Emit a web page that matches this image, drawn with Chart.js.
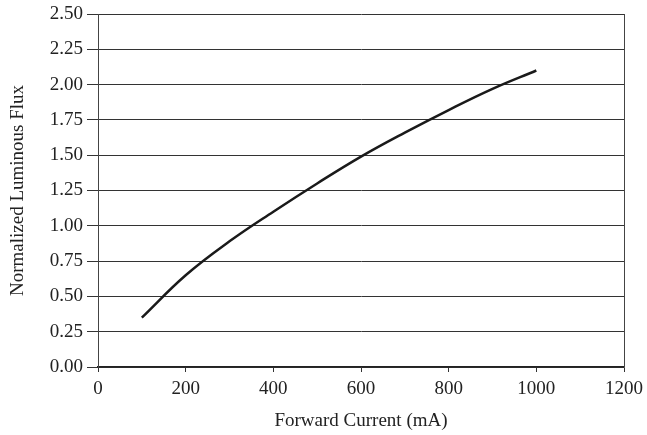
<!DOCTYPE html>
<html>
<head>
<meta charset="utf-8">
<script src="https://cdn.jsdelivr.net/npm/chart.js@4/dist/chart.umd.min.js"></script>
<style>
html,body{margin:0;padding:0;background:#fff;}
#wrap{width:647px;height:435px;}
</style>
</head>
<body>
<div id="wrap"><canvas id="c" width="647" height="435"></canvas></div>
<script>
const currentMA = [100, 200, 300, 400, 500, 600, 700, 800, 900, 1000];
const fluxValues = [0.35, 0.65, 0.89, 1.10, 1.30, 1.49, 1.66, 1.82, 1.97, 2.10];
const xTicks = [0, 200, 400, 600, 800, 1000, 1200];
const yTicks = [0, 0.25, 0.5, 0.75, 1.0, 1.25, 1.5, 1.75, 2.0, 2.25, 2.5];
const xTitle = 'Forward Current (mA)';
const yTitle = 'Normalized Luminous Flux';

const FONT = "'Liberation Serif', 'Times New Roman', serif";
const INK = '#222';

const frame = {
  id: 'frame',
  afterDraw(chart) {
    const a = chart.chartArea, ctx = chart.ctx;
    ctx.save();
    ctx.strokeStyle = '#444';
    ctx.lineWidth = 1;
    ctx.beginPath();
    ctx.moveTo(Math.round(a.right) + 0.5, a.top);
    ctx.lineTo(Math.round(a.right) + 0.5, a.bottom);
    ctx.stroke();
    ctx.restore();
  }
};

new Chart(document.getElementById('c'), {
  type: 'line',
  data: {
    datasets: [{
      data: currentMA.map((x, i) => ({x: x, y: fluxValues[i]})),
      borderColor: '#1a1a1a',
      borderWidth: 2.5,
      pointRadius: 0,
      tension: 0.4,
      fill: false
    }]
  },
  options: {
    responsive: false,
    animation: false,
    layout: {padding: {top: 14, right: 23, bottom: 0, left: 0}},
    plugins: {legend: {display: false}, tooltip: {enabled: false}},
    scales: {
      x: {
        type: 'linear',
        min: 0, max: 1200,
        afterBuildTicks: s => { s.ticks = xTicks.map(v => ({value: v})); },
        afterFit: s => { s.height = 68; s.paddingRight = 0; s.paddingLeft = 0; },
        grid: {drawOnChartArea: false, drawTicks: true, tickLength: 5, color: '#333', lineWidth: 1},
        border: {display: true, color: '#222', width: 1.5},
        ticks: {color: INK, font: {family: FONT, size: 19}, padding: 6, maxRotation: 0, callback: v => String(v)},
        title: {display: true, text: xTitle, color: INK, font: {family: FONT, size: 19}, padding: {top: 0, bottom: 3}}
      },
      y: {
        min: 0, max: 2.5,
        afterBuildTicks: s => { s.ticks = yTicks.map(v => ({value: v})); },
        afterFit: s => { s.width = 98; s.paddingTop = 0; s.paddingBottom = 0; },
        grid: {drawOnChartArea: true, drawTicks: true, tickLength: 11, color: '#333', lineWidth: 1},
        border: {display: true, color: '#444', width: 1},
        ticks: {color: INK, font: {family: FONT, size: 19}, padding: 4, callback: v => v.toFixed(2)},
        title: {display: true, text: yTitle, color: INK, font: {family: FONT, size: 19}, padding: {top: 7, bottom: 0}}
      }
    }
  },
  plugins: [frame]
});
</script>
</body>
</html>
